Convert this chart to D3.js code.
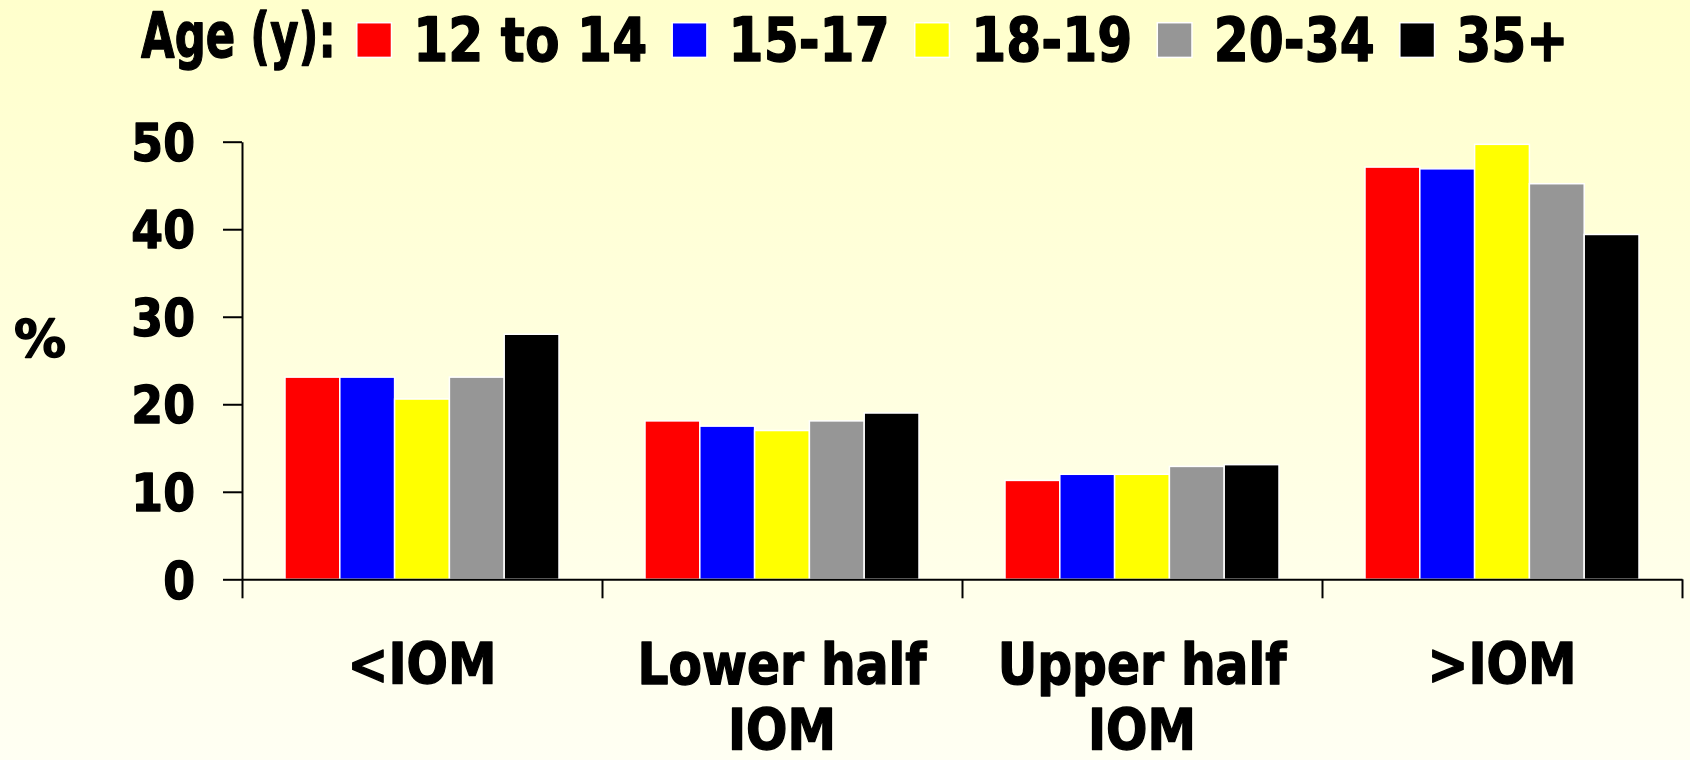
<!DOCTYPE html>
<html>
<head>
<meta charset="utf-8">
<script src="https://cdn.jsdelivr.net/npm/d3@7"></script>
<style>
  html, body { margin: 0; padding: 0; }
  svg { display: block; }
  text { font-family: "DejaVu Sans", Verdana, sans-serif; font-weight: bold; fill: #000;
         stroke: #000; stroke-width: 1.4px; stroke-linejoin: round; }
</style>
</head>
<body>
<svg id="chart"></svg>
<script>
const width = 1690;
const height = 760;

// data
const categories = ['<IOM', 'Lower half\nIOM', 'Upper half\nIOM', '>IOM'];
const ageGroups = ['12 to 14', '15-17', '18-19', '20-34', '35+'];
const ageColors = ['#FF0000', '#0000FF', '#FFFF00', '#969696', '#000000'];
const age12to14 = [23.1, 18.1, 11.3, 47.1];
const age15to17 = [23.1, 17.5, 12.0, 46.9];
const age18to19 = [20.6, 17.0, 12.0, 49.7];
const age20to34 = [23.1, 18.1, 12.9, 45.2];
const age35plus = [28.0, 19.0, 13.1, 39.4];
const yTicks = [0, 10, 20, 30, 40, 50];
const legendTitle = 'Age (y):';
const yLabel = '%';

const series = [age12to14, age15to17, age18to19, age20to34, age35plus];

const plotLeft = 242, plotRight = 1682, plotTop = 141.7, plotBottom = 579.3;

const svg = d3.select('#chart')
    .attr('width', width)
    .attr('height', height);

// pale yellow background, fading down
const grad = svg.append('defs').append('linearGradient')
    .attr('id', 'bg').attr('x1', 0).attr('y1', 0).attr('x2', 0).attr('y2', 1);
grad.append('stop').attr('offset', '0%').attr('stop-color', '#FFFFCC');
grad.append('stop').attr('offset', '100%').attr('stop-color', '#FFFFF3');
svg.append('rect').attr('width', width).attr('height', height).attr('fill', 'url(#bg)');

const x0 = d3.scaleBand().domain(categories).range([plotLeft, plotRight]);
const x1 = d3.scaleBand().domain(ageGroups).range([43, x0.bandwidth() - 43]);
const y = d3.scaleLinear().domain([0, 50]).range([plotBottom, plotTop]);
const color = d3.scaleOrdinal().domain(ageGroups).range(ageColors);

const rows = [];
categories.forEach((c, i) => {
    ageGroups.forEach((a, j) => rows.push({cat: c, age: a, value: series[j][i]}));
});

// bars
svg.append('g').selectAll('rect').data(rows)
    .enter()
    .append('rect')
    .attr('x', d => x0(d.cat) + x1(d.age))
    .attr('y', d => y(d.value))
    .attr('width', x1.bandwidth())
    .attr('height', d => y(0) - y(d.value))
    .attr('fill', d => color(d.age))
    .attr('stroke', '#fff')
    .attr('stroke-width', 1.5);

// y axis
const ySqueeze = 0.88;
const yAxis = svg.append('g')
    .attr('transform', `translate(${plotLeft}, 0)`)
    .call(d3.axisLeft(y).tickValues(yTicks).tickSize(19).tickSizeOuter(0).tickPadding(28))
    .attr('font-size', 52)
    .attr('font-family', '"DejaVu Sans", Verdana, sans-serif')
    .attr('font-weight', 'bold');
yAxis.selectAll('path, line').attr('stroke', '#000').attr('stroke-width', 2);
yAxis.selectAll('text')
    .attr('x', -47 / ySqueeze)
    .attr('dy', '0.36em')
    .attr('transform', `scale(${ySqueeze},1)`);

// x axis: ticks on the category boundaries
const boundary = d3.scaleLinear().domain([0, categories.length]).range([plotLeft, plotRight]);
const xAxis = svg.append('g')
    .attr('transform', `translate(0, ${plotBottom})`)
    .call(d3.axisBottom(boundary).tickValues(d3.range(categories.length + 1)).tickFormat('').tickSize(19).tickSizeOuter(0));
xAxis.selectAll('path, line').attr('stroke', '#000').attr('stroke-width', 2);

// category labels
const xSqueeze = 0.87;
categories.forEach(c => {
    const t = svg.append('text')
        .attr('text-anchor', 'middle')
        .attr('font-size', 56)
        .attr('transform', `translate(${x0(c) + x0.bandwidth() / 2}, 684) scale(${xSqueeze},1)`);
    c.split('\n').forEach((line, i) => {
        t.append('tspan').attr('x', 0).attr('dy', i === 0 ? 0 : 66).text(line);
    });
});

// y label
svg.append('text')
    .attr('x', 40)
    .attr('y', 357)
    .attr('text-anchor', 'middle')
    .attr('font-size', 52)
    .text(yLabel);

// legend
const legend = svg.append('g');
const titleSqueeze = 0.69;
const title = legend.append('text')
    .attr('font-size', 63)
    .attr('transform', `translate(141, 57) scale(${titleSqueeze},1)`)
    .text(legendTitle);
let lx = 141 + title.node().getComputedTextLength() * titleSqueeze + 21;
const sw = 34.7;
const labelSqueeze = 0.84;
ageGroups.forEach(a => {
    legend.append('rect')
        .attr('x', lx)
        .attr('y', 22.7)
        .attr('width', sw)
        .attr('height', sw)
        .attr('fill', color(a))
        .attr('stroke', '#fff')
        .attr('stroke-width', 1.5);
    lx += sw + 21.7;
    const t = legend.append('text')
        .attr('font-size', 60)
        .attr('transform', `translate(${lx}, 60.7) scale(${labelSqueeze},1)`)
        .text(a);
    lx += t.node().getComputedTextLength() * labelSqueeze + 25;
});
</script>
</body>
</html>
